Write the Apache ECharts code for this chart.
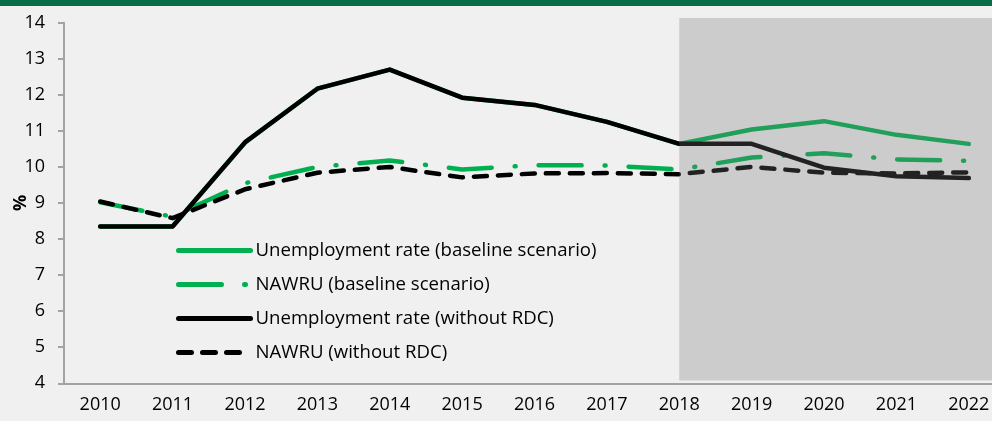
<!DOCTYPE html>
<html>
<head>
<meta charset="utf-8">
<script src="https://cdn.jsdelivr.net/npm/echarts@6/dist/echarts.min.js"></script>
<style>
  html, body { margin: 0; padding: 0; background: #f0f0f0; }
  #chart { width: 992px; height: 421px; }
</style>
</head>
<body>
<div id="chart"></div>
<script>
// Years on the horizontal axis
const years = ['2010', '2011', '2012', '2013', '2014', '2015', '2016',
               '2017', '2018', '2019', '2020', '2021', '2022'];

// Unemployment rate and NAWRU, % of labour force
const unempBaseline = [8.35, 8.35, 10.68, 12.17, 12.70, 11.92, 11.72, 11.25, 10.64, 11.04, 11.27, 10.89, 10.64];
const nawruBaseline = [9.02, 8.62, 9.55, 10.00, 10.18, 9.93, 10.05, 10.04, 9.93, 10.26, 10.38, 10.21, 10.17];
const unempNoRdc    = [8.35, 8.35, 10.68, 12.17, 12.70, 11.92, 11.72, 11.25, 10.64, 10.64, 9.98, 9.74, 9.69];
const nawruNoRdc    = [9.04, 8.58, 9.38, 9.84, 10.00, 9.71, 9.82, 9.83, 9.80, 10.00, 9.84, 9.82, 9.85];

// Y axis range
const yMin = 4, yMax = 14, yStep = 1;
// First projection year (shaded period)
const forecastStart = '2018';

const FONT = '"Open Sans", sans-serif';
const GREEN = '#00b050';
const BLACK = '#000000';
const DASH_DOT = [43, 23, 1, 23];
const DASH = [13, 11];

const names = ['Unemployment rate (baseline scenario)', 'NAWRU (baseline scenario)',
               'Unemployment rate (without RDC)', 'NAWRU (without RDC)'];
const colors = [GREEN, GREEN, BLACK, BLACK];
const dashes = ['solid', DASH_DOT, 'solid', DASH];

const legendItems = names.map((n, i) => ({
  name: n,
  itemStyle: { opacity: 0 },
  lineStyle: { color: colors[i], width: 5, cap: 'round', type: dashes[i] }
}));

const chart = echarts.init(document.getElementById('chart'));

chart.setOption({
  backgroundColor: '#f0f0f0',
  animation: false,
  textStyle: { fontFamily: FONT },
  graphic: [{
    type: 'rect',
    left: 0, top: 0,
    shape: { width: 992, height: 6 },
    style: { fill: '#086c45' },
    silent: true
  }],
  grid: { left: 64, right: -13, top: 22.7, bottom: 37.7, outerBoundsMode: 'none', containLabel: false },
  legend: {
    orient: 'vertical',
    left: 176, top: 241,
    padding: 0,
    itemWidth: 72, itemHeight: 14, itemGap: 15,
    textStyle: { fontFamily: FONT, fontSize: 18.6, color: '#000' },
    data: legendItems
  },
  xAxis: {
    type: 'category',
    data: years,
    axisLine: { lineStyle: { color: '#a3a3a3', width: 2 } },
    axisTick: { length: 6, lineStyle: { color: '#a3a3a3', width: 2 } },
    axisLabel: { fontFamily: FONT, fontSize: 18, color: '#000', margin: 13 },
    splitLine: { show: false }
  },
  yAxis: {
    type: 'value',
    min: yMin, max: yMax, interval: yStep,
    name: '%',
    nameLocation: 'middle',
    nameGap: 34,
    nameMoveOverlap: false,
    nameRotate: 90,
    nameTextStyle: { fontFamily: FONT, fontSize: 18, fontWeight: 'bold', color: '#000' },
    axisLine: { show: true, lineStyle: { color: '#a3a3a3', width: 2 } },
    axisTick: { show: true, length: 6, lineStyle: { color: '#a3a3a3', width: 2 } },
    axisLabel: { fontFamily: FONT, fontSize: 18, color: '#000', margin: 19 },
    splitLine: { show: false }
  },
  series: names.map((n, i) => {
    const s = {
      name: n,
      type: 'line',
      data: [unempBaseline, nawruBaseline, unempNoRdc, nawruNoRdc][i],
      symbol: 'none',
      z: 2 + i,
      lineStyle: { color: colors[i], width: 4.5, cap: 'round', join: 'round', type: dashes[i] },
      itemStyle: { color: colors[i] }
    };
    if (i === 3) {
      // Projection period overlay, drawn over the lines
      s.markArea = {
        silent: true,
        z: 10,
        itemStyle: { color: 'rgba(116,116,116,0.29)' },
        data: [[{ xAxis: forecastStart, y: 18 }, { yAxis: 4.08 }]]
      };
    }
    return s;
  })
});
</script>
</body>
</html>
